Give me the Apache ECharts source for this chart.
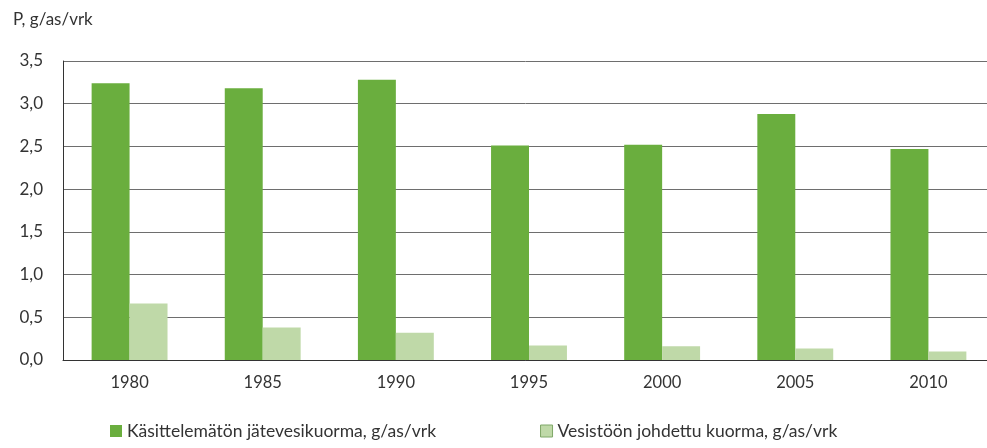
<!DOCTYPE html>
<html>
<head>
    <meta charset="utf-8"/>
    <title>P-kuorma</title>
    <script src="https://cdn.jsdelivr.net/npm/echarts@6/dist/echarts.min.js"></script>
    <style>
        html, body { margin: 0; padding: 0; background: #fff; }
        #chart { width: 987px; height: 448px; }
    </style>
</head>
<body>
<div id="chart"></div>
<script>
    // vuodet ja kuormat (g/as/vrk), luettu kuvasta
    var years = ['1980', '1985', '1990', '1995', '2000', '2005', '2010'];
    var untreated = [3.24, 3.18, 3.28, 2.51, 2.52, 2.88, 2.47];
    var toWater = [0.66, 0.38, 0.32, 0.17, 0.16, 0.135, 0.10];
    var seriesNames = ['Käsittelemätön jätevesikuorma, g/as/vrk', 'Vesistöön johdettu kuorma, g/as/vrk'];
    var yTicks = { min: 0, max: 3.5, step: 0.5 };

    var font = 'Lato, "Open Sans", sans-serif';
    var myChart = echarts.init(document.getElementById('chart'));
    var option = {
        animation: false,
        textStyle: { fontFamily: font },
        title: {
            text: 'P, g/as/vrk',
            left: 8, top: 6,
            textStyle: { fontSize: 17, fontWeight: 'normal', color: '#333', fontFamily: font }
        },
        legend: {
            bottom: 3, left: 105,
            itemWidth: 12, itemHeight: 12, itemGap: 104,
            textStyle: { fontSize: 17.5, color: '#333', fontFamily: font },
            data: [
                { name: seriesNames[0], icon: 'rect' },
                { name: seriesNames[1], icon: 'rect', itemStyle: { borderColor: '#7fa868', borderWidth: 1 } }
            ]
        },
        // plot runs past the right edge of the picture, as in the original
        grid: { left: 63, right: -8, top: 61, bottom: 88, outerBoundsMode: 'none' },
        xAxis: {
            type: 'category',
            data: years,
            axisTick: { show: false },
            axisLine: { lineStyle: { color: '#333', width: 1 } },
            axisLabel: { fontSize: 16.5, color: '#333', margin: 14, fontFamily: font }
        },
        yAxis: {
            type: 'value',
            min: yTicks.min, max: yTicks.max, interval: yTicks.step,
            axisLine: { show: true, lineStyle: { color: '#333' } },
            axisTick: { show: false },
            splitLine: { lineStyle: { color: '#6e6e6e', width: 1 } },
            axisLabel: {
                fontSize: 17, color: '#333', margin: 20, fontFamily: font,
                formatter: function (v) { return v.toFixed(1).replace('.', ','); }
            }
        },
        series: [
            {
                name: seriesNames[0], type: 'bar', data: untreated,
                barGap: '0%', barCategoryGap: '43%',
                itemStyle: { color: '#6aae3e' }
            },
            {
                name: seriesNames[1], type: 'bar', data: toWater,
                itemStyle: { color: '#bfd9a8' }
            }
        ]
    };
    myChart.setOption(option);
</script>
</body>
</html>
